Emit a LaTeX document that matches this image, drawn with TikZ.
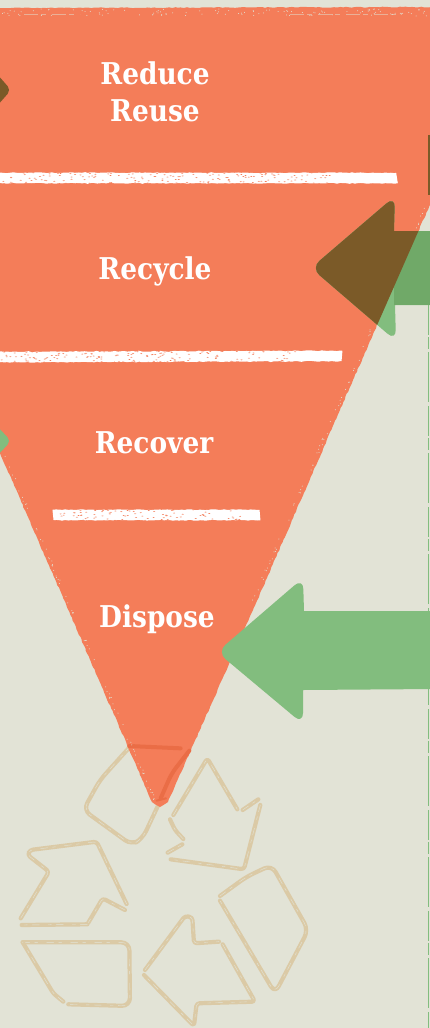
\documentclass[tikz,border=0pt]{standalone}
\usepackage{fontspec}
\setmainfont{DejaVu Serif}
\usetikzlibrary{decorations.pathmorphing}
\definecolor{paper}{HTML}{E2E3D6}
\definecolor{funnelred}{HTML}{F47D59}
\definecolor{arrowgreen}{HTML}{82BD7E}
\definecolor{shaftgreen}{HTML}{70A968}
\definecolor{arrowbrown}{HTML}{7B5A28}
\definecolor{icontan}{HTML}{DBCAA6}
\definecolor{icondark}{HTML}{EA6D46}
\tikzset{
  rough/.style={decorate,decoration={random steps,segment length=3pt,amplitude=0.45pt}},
  label/.style={font=\bfseries\fontsize{30}{37}\selectfont,text=white,align=center,inner sep=0pt,xscale=0.88},
  chalk/.style={rough,draw=white,line width=10.5pt},
  recycleline/.style={draw=icontan,line width=4.2pt,rounded corners=3pt,line join=round,line cap=round,
    postaction={draw=paper,line width=0.4pt,dash pattern=on 7pt off 5pt on 3pt off 9pt}},
  overlapline/.style={draw=icondark,line width=4pt,rounded corners=7pt,line cap=round}
}
\begin{document}
\begin{tikzpicture}[x=1pt,y=-1pt]
\useasboundingbox (0,0) rectangle (429,1028);
\fill[paper] (-5,-5) rectangle (435,1033);
\pgfmathsetseed{11}
% Recycling sign under the funnel
\begin{scope}[shift={(0,730)},x=0.3333pt,y=-0.3333pt]
  \draw[recycleline,rounded corners=8pt] (392,48) -- (300,150) -- (250,240) -- (395,345) -- (428,325) -- (475,225);
  \draw[recycleline] (520,255) -- (622,85) -- (712,238);
  \draw[recycleline] (728,240) -- (775,208);
  \draw[recycleline] (781,225) -- (732,418) -- (512,388);
  \draw[recycleline] (503,368) -- (547,343);
  \draw[recycleline] (550,327) -- (525,300) -- (510,268);
  \draw[recycleline,rounded corners=8pt] (660,498) -- (740,440) -- (815,405) -- (925,600) -- (825,790) -- (660,512);
  \draw[recycleline] (435,720) -- (555,558) -- (577,562) -- (582,640) -- (657,635);
  \draw[recycleline] (668,643) -- (765,815) -- (590,820) -- (582,888) -- (432,735);
  \draw[recycleline,rounded corners=8pt] (68,637) -- (388,637) -- (390,828) -- (205,823);
  \draw[recycleline] (190,815) -- (160,790) -- (68,637);
  \draw[recycleline] (62,565) -- (147,425) -- (83,375) -- (90,360) -- (290,335) -- (380,522);
  \draw[recycleline] (375,540) -- (308,505) -- (265,578);
  \draw[recycleline] (262,583) -- (65,585);
\end{scope}
% Funnel
\fill[funnelred,rough] (-5,8) -- (435,7) -- (435,195) -- (429,207) -- (353,380) -- (253,610) -- (168,802) -- (160,807) -- (152,802) -- (0,453) -- (-5,453) -- cycle;
% Recycling sign seen through the funnel tip
\begin{scope}[shift={(0,730)},x=0.3333pt,y=-0.3333pt]
  \draw[overlapline] (388,48) -- (542,55);
  \draw[overlapline] (568,62) -- (515,130) -- (482,205);
  \draw[overlapline,line width=2pt] (470,212) -- (498,205);
\end{scope}
% Worn specks along the funnel edges
\foreach \n in {1,...,70} {
  \pgfmathsetmacro{\tt}{rnd}
  \fill[paper] ({253+(429-253)*\tt-2-3*rnd},{610+(207-610)*\tt-1}) circle (0.5pt);
  \pgfmathsetmacro{\tt}{rnd}
  \fill[paper] ({(152*\tt)+2+3*rnd},{453+(802-453)*\tt}) circle (0.5pt);
}
\foreach \n in {1,...,110} {
  \fill[paper] ({430*rnd},{9+7*rnd}) circle (0.5pt);
}
\draw[paper,opacity=0.5,line width=0.5pt,dash pattern=on 14pt off 3pt on 5pt off 6pt] (24,14) -- (80,14);
\draw[paper,opacity=0.5,line width=0.5pt,dash pattern=on 14pt off 3pt on 5pt off 6pt] (290,14) -- (400,14);
% Green arrows
\fill[arrowgreen] (304,611) -- (435,611) -- (435,689) -- (303,690) [rounded corners=11pt] -- (303,724) -- (217,652) -- (303,578) -- (304,611);
\fill[arrowgreen] (394,231) -- (435,231) -- (435,305) -- (395,305) [rounded corners=11pt] -- (396,341) -- (311,268) -- (395,196) -- (394,231);
\fill[shaftgreen] (394,231) rectangle (435,305);
\fill[arrowgreen,rounded corners=5pt] (-20,441) -- (-3,426) -- (11,441) -- (-3,456) -- cycle;
\draw[arrowgreen,line width=1pt,dash pattern=on 30pt off 2pt on 12pt off 3pt on 50pt off 4pt] (428.6,305) -- (428.6,1028);
% Arrow parts lying on the funnel
\begin{scope}
  \clip (-5,8) -- (435,7) -- (435,195) -- (429,207) -- (353,380) -- (253,610) -- (0,453) -- (-5,453) -- cycle;
  \fill[arrowbrown] (394,231) -- (435,231) -- (435,305) -- (395,305) [rounded corners=11pt] -- (396,341) -- (311,268) -- (395,196) -- (394,231);
\end{scope}
\fill[arrowbrown,rounded corners=5pt] (-20,90) -- (-3,74) -- (11,90) -- (-3,106) -- cycle;
\fill[arrowbrown] (427.8,135) rectangle (435,195);
% Chalk lines
\draw[chalk] (-5,178) -- (397,178);
\draw[chalk] (-5,357) -- (342,356);
\draw[chalk] (53,515) -- (260,515);
\foreach \y/\xa/\xb/\num in {178/0/330/170,357/0/300/150,515/58/245/90} {
  \foreach \n in {1,...,\num} {
    \fill[funnelred] ({\xa+(\xb-\xa)*rnd},{\y-6+12*rnd}) ellipse (1.1pt and 0.4pt);
  }
}
% Labels
\node[label] (reduce) at (155,92) {Reduce\\Reuse};
\node[label,anchor=base] (recycle) at (155,279) {Recycle};
\node[label,anchor=base] (recover) at (154,453) {Recover};
\node[label,anchor=base] (dispose) at (157,627) {Dispose};
\end{tikzpicture}
\end{document}
